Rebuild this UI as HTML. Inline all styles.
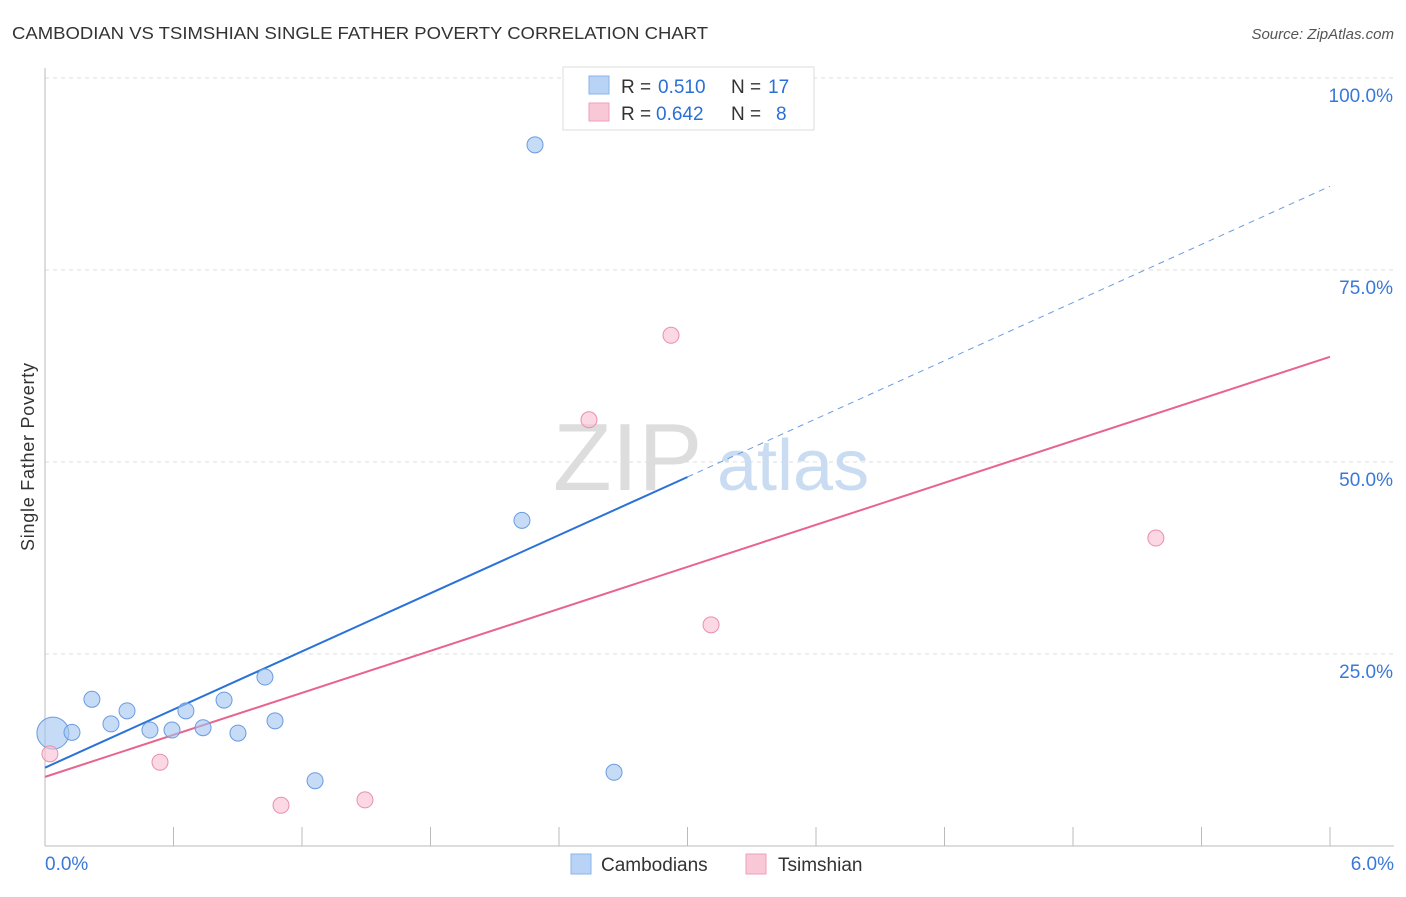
<!DOCTYPE html>
<html><head><meta charset="utf-8"><style>
body{margin:0;background:#fff;font-family:"Liberation Sans",sans-serif;}
svg text{font-family:"Liberation Sans",sans-serif;}
</style></head><body>
<svg id="chart" width="1406" height="892">
<text x="12" y="39" font-size="17.5" fill="#333" textLength="696" lengthAdjust="spacingAndGlyphs">CAMBODIAN VS TSIMSHIAN SINGLE FATHER POVERTY CORRELATION CHART</text>
<text x="1394" y="39" font-size="15" fill="#555" font-style="italic" text-anchor="end">Source: ZipAtlas.com</text>
<text transform="translate(34,457) rotate(-90)" font-size="18" fill="#333" text-anchor="middle" textLength="188">Single Father Poverty</text>
<g id="grid"></g>
<g>
<text x="553" y="490" font-size="96" font-family="Liberation Serif,serif" fill="#ddd">ZIP</text>
<text x="717" y="490" font-size="72" fill="#c9dcf2">atlas</text>
</g>
<g id="lines"></g>
<g id="points"></g>
<g>
<rect x="563" y="67" width="251" height="63" fill="#fff" stroke="#ddd"/>
<rect x="589" y="76" width="20" height="18" fill="#b8d3f5" stroke="#8ab4ea"/>
<rect x="589" y="103" width="20" height="18" fill="#f9c8d6" stroke="#f0a0b8"/>
<text x="621" y="93" font-size="19" fill="#333">R =</text>
<text x="658" y="93" font-size="19" fill="#2a6fd6">0.510</text>
<text x="731" y="93" font-size="19" fill="#333">N =</text>
<text x="768" y="93" font-size="19" fill="#2a6fd6">17</text>
<text x="621" y="120" font-size="19" fill="#333">R =</text>
<text x="656" y="120" font-size="19" fill="#2a6fd6">0.642</text>
<text x="731" y="120" font-size="19" fill="#333">N =</text>
<text x="776" y="120" font-size="19" fill="#2a6fd6">8</text>
</g>
<g>
<rect x="571" y="854" width="20" height="20" fill="#b8d3f5" stroke="#8ab4ea"/>
<text x="601" y="871" font-size="19" fill="#333">Cambodians</text>
<rect x="746" y="854" width="20" height="20" fill="#f9c8d6" stroke="#f0a0b8"/>
<text x="778" y="871" font-size="19" fill="#333">Tsimshian</text>
</g>
</svg>
<script>
const blueX=[0.037,0.126,0.219,0.308,0.383,0.490,0.593,0.658,0.738,0.836,0.901,1.027,1.074,1.261,2.227,2.288,2.657];
const blueY=[14.7,14.8,19.1,15.9,17.6,15.1,15.1,17.6,15.4,19.0,14.7,22.0,16.3,8.5,42.4,91.3,9.6];
const blueR=[16,8,8,8,8,8,8,8,8,8,8,8,8,8,8,8,8];
const pinkX=[0.023,0.537,1.102,1.494,2.540,2.923,3.110,5.187];
const pinkY=[12.0,10.9,5.3,6.0,55.5,66.5,28.8,40.1];
const blueLine=[10.2,85.9];
const pinkLine=[9.0,63.7];
const yTicks=[25,50,75,100];
const xTickLabels=["0.0%","6.0%"];
const NS="http://www.w3.org/2000/svg";
const sx=v=>45+v/6*1285, sy=v=>846-v/100*768;
function mk(t,a,p){const e=document.createElementNS(NS,t);for(const k in a)e.setAttribute(k,a[k]);p.appendChild(e);return e;}
const grid=document.getElementById('grid');
yTicks.forEach(t=>{
 const l=mk('line',{x1:45,x2:1394,y1:sy(t),y2:sy(t),stroke:'#ddd','stroke-dasharray':'4,4'},grid);
 
 
 const tx=mk('text',{x:1393,y:sy(t)+24,'font-size':19,fill:'#3a78d8','text-anchor':'end'},grid);
 tx.textContent=t.toFixed(1)+'%';
 
 
});
const ax=mk('line',{x1:45,x2:45,y1:68,y2:846,stroke:'#bbb'},grid);


const bx=mk('line',{x1:45,x2:1394,y1:846,y2:846,stroke:'#bbb'},grid);


for(let i=0;i<=10;i++){const v=i*0.6;const t=mk('line',{x1:sx(v),x2:sx(v),y1:827,y2:846,stroke:'#bbb'},grid);
 
 }
[[0,xTickLabels[0],'start',45],[6,xTickLabels[1],'end',1394]].forEach(([v,s,a,x])=>{
 const t=mk('text',{x:x,y:870,'font-size':19,fill:'#3a78d8','text-anchor':a},grid);t.textContent=s;
 
 });
const lines=document.getElementById('lines');
const split=3.0;
const b1=mk('line',{x1:sx(0),y1:sy(blueLine[0]),x2:sx(split),y2:sy(blueLine[0]+(blueLine[1]-blueLine[0])*split/6),stroke:'#2a72d9','stroke-width':2},lines);


const b2=mk('line',{x1:sx(split),y1:sy(blueLine[0]+(blueLine[1]-blueLine[0])*split/6),x2:sx(6),y2:sy(blueLine[1]),stroke:'#6a9be0','stroke-width':1,'stroke-dasharray':'6,5'},lines);


const p1=mk('line',{x1:sx(0),y1:sy(pinkLine[0]),x2:sx(6),y2:sy(pinkLine[1]),stroke:'#e8648e','stroke-width':2},lines);


const pts=document.getElementById('points');
blueX.forEach((x,i)=>{const c=mk('circle',{cx:sx(x),cy:sy(blueY[i]),r:blueR[i],fill:'rgba(160,196,240,0.6)',stroke:'#6a9be0','stroke-width':1},pts);
 
 });
pinkX.forEach((x,i)=>{const c=mk('circle',{cx:sx(x),cy:sy(pinkY[i]),r:8,fill:'rgba(248,190,208,0.6)',stroke:'#ea8fab','stroke-width':1},pts);
 
 });
</script>
</body></html>
